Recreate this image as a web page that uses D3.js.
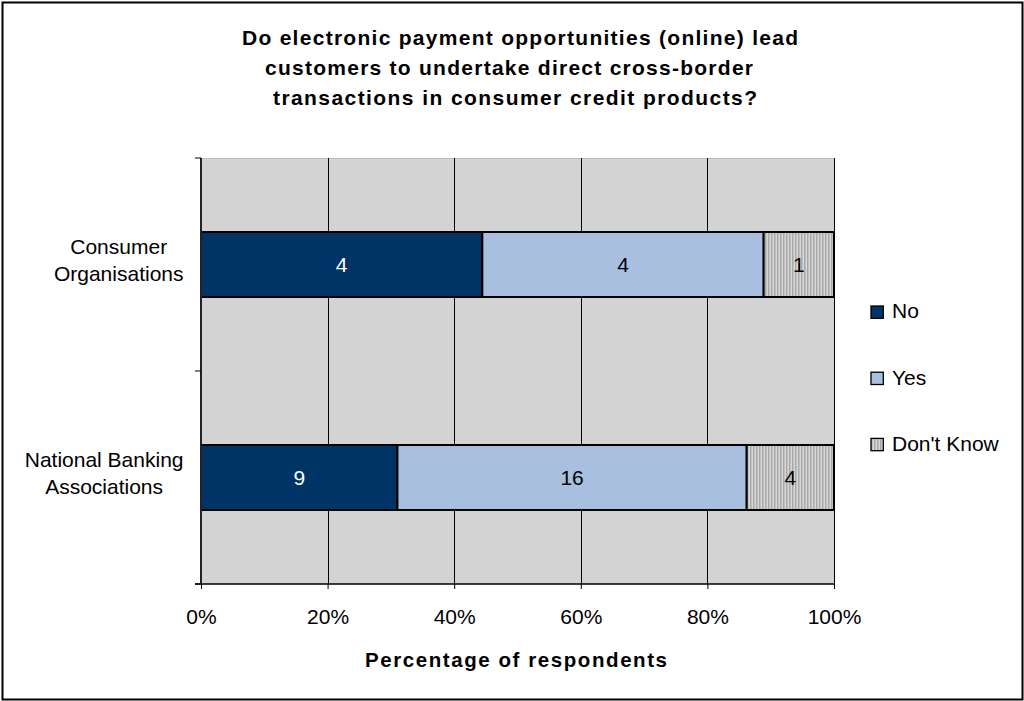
<!DOCTYPE html>
<html><head><meta charset="utf-8">
<script src="https://cdn.jsdelivr.net/npm/d3@7"></script>
<style>body{margin:0;background:#fff}svg{display:block;font-family:"Liberation Sans",Arial,sans-serif}</style>
</head><body>
<script>
const titleLines = ["Do electronic payment opportunities (online) lead","customers to undertake direct cross-border","transactions in consumer credit products?"];
const categories = [["Consumer","Organisations"],["National Banking","Associations"]];
const seriesNames = ["No","Yes","Don't Know"];
const noValues = [4, 9];
const yesValues = [4, 16];
const dontKnowValues = [1, 4];
const xTicks = [0, 0.2, 0.4, 0.6, 0.8, 1.0];
const xTitle = "Percentage of respondents";

(function(){
const W = 1024, H = 701;
const svg = d3.select("body").append("svg").attr("width", W).attr("height", H);
const defs = svg.append("defs");
const pat = defs.append("pattern").attr("id","dk").attr("patternUnits","userSpaceOnUse").attr("width",3).attr("height",3);
pat.append("rect").attr("width",3).attr("height",3).attr("fill","#d8d8d8");
pat.append("rect").attr("width",1.5).attr("height",3).attr("fill","#a8a8a8");

svg.append("rect").attr("x",2.5).attr("y",2.5).attr("width",W-4).attr("height",H-4).attr("fill","#fff").attr("stroke","#000").attr("stroke-width",2);

const colors = ["#003366","#a9bfe0","url(#dk)"];
const pL = 201, pR = 834, pT = 158, pB = 584;
const x = d3.scaleLinear().domain([0,1]).range([pL,pR]);
const y = d3.scaleBand().domain(d3.range(categories.length)).range([pT,pB]).paddingInner(0.695).paddingOuter(0.3475);
const yb = d3.scaleBand().domain(d3.range(categories.length)).range([pT,pB]);

svg.append("rect").attr("x",pL).attr("y",pT).attr("width",pR-pL).attr("height",pB-pT).attr("fill","#d3d3d3");
svg.append("line").attr("x1",pL).attr("x2",pR).attr("y1",pT+0.5).attr("y2",pT+0.5).attr("stroke","#bdbdbd");
svg.append("g").selectAll("line").data(xTicks.slice(1)).join("line")
  .attr("x1",d=>Math.round(x(d))+0.5).attr("x2",d=>Math.round(x(d))+0.5).attr("y1",pT).attr("y2",pB).attr("stroke","#000");

const rows = categories.map((c,i)=>[noValues[i],yesValues[i],dontKnowValues[i]]);
rows.forEach((vals,i)=>{
  const total = d3.sum(vals);
  let cum = 0;
  vals.forEach((v,j)=>{
    const x0 = x(cum/total), x1 = x((cum+v)/total);
    cum += v;
    svg.append("rect").attr("x",x0).attr("y",y(i)).attr("width",x1-x0).attr("height",y.bandwidth())
      .attr("fill",colors[j]).attr("stroke","#000").attr("stroke-width",2);
    svg.append("text").attr("x",(x0+x1)/2).attr("y",y(i)+y.bandwidth()/2+7.5)
      .attr("text-anchor","middle").attr("font-size",21).attr("fill", j===0?"#fff":"#000").text(v);
  });
});

const xAxis = d3.axisBottom(x).tickValues(xTicks).tickFormat(d3.format(".0%")).tickSize(5).tickPadding(0);
const gx = svg.append("g").attr("transform",`translate(0,${pB})`).call(xAxis);
gx.select(".domain").attr("stroke","#000").attr("stroke-width",1.5).attr("d",`M${pL-6},0H${pR}`);
gx.selectAll(".tick line").attr("stroke","#000");
gx.selectAll("text").attr("font-size",21).attr("fill","#000").attr("font-family","Liberation Sans, Arial, sans-serif")
  .attr("dy",null).attr("y",39.5);

svg.append("line").attr("x1",pL).attr("x2",pL).attr("y1",pT).attr("y2",pB).attr("stroke","#222").attr("stroke-width",2);
svg.append("g").selectAll("line").data([0,1,2]).join("line")
  .attr("x1",pL-6).attr("x2",pL).attr("y1",d=>d<2?yb(d):pB).attr("y2",d=>d<2?yb(d):pB).attr("stroke","#000");

categories.forEach((lines,i)=>{
  const cy = y(i)+y.bandwidth()/2;
  const g = svg.append("g");
  const offs = [-10.5, 16];
  const texts = lines.map((l,k)=>g.append("text").attr("font-size",21).attr("text-anchor","middle")
    .attr("y",cy+offs[k]).text(l));
  const wmax = d3.max(texts,t=>t.node().getComputedTextLength());
  texts.forEach(t=>t.attr("x",183.5-wmax/2));
});

const titleX = [242, 265, 273], titleLen = [556, 488, 484];
svg.append("g").selectAll("text").data(titleLines).join("text")
  .attr("x",(d,i)=>titleX[i]).attr("y",(d,i)=>44.5+i*30)
  .attr("textLength",(d,i)=>titleLen[i]).attr("lengthAdjust","spacing")
  .attr("font-size",21).attr("font-weight","bold").text(d=>d);

svg.append("text").attr("x",365).attr("y",667.3).attr("textLength",302).attr("lengthAdjust","spacing")
  .attr("font-size",20.5).attr("font-weight","bold").text(xTitle);

const lg = svg.append("g").selectAll("g").data(seriesNames).join("g")
  .attr("transform",(d,i)=>`translate(871,${318.3+i*66.2})`);
lg.append("rect").attr("x",0).attr("y",-12.3).attr("width",12.3).attr("height",12.3)
  .attr("fill",(d,i)=>colors[i]).attr("stroke","#000").attr("stroke-width",1.3);
lg.append("text").attr("x",21).attr("font-size",21).text(d=>d);
})();
</script>
</body></html>
